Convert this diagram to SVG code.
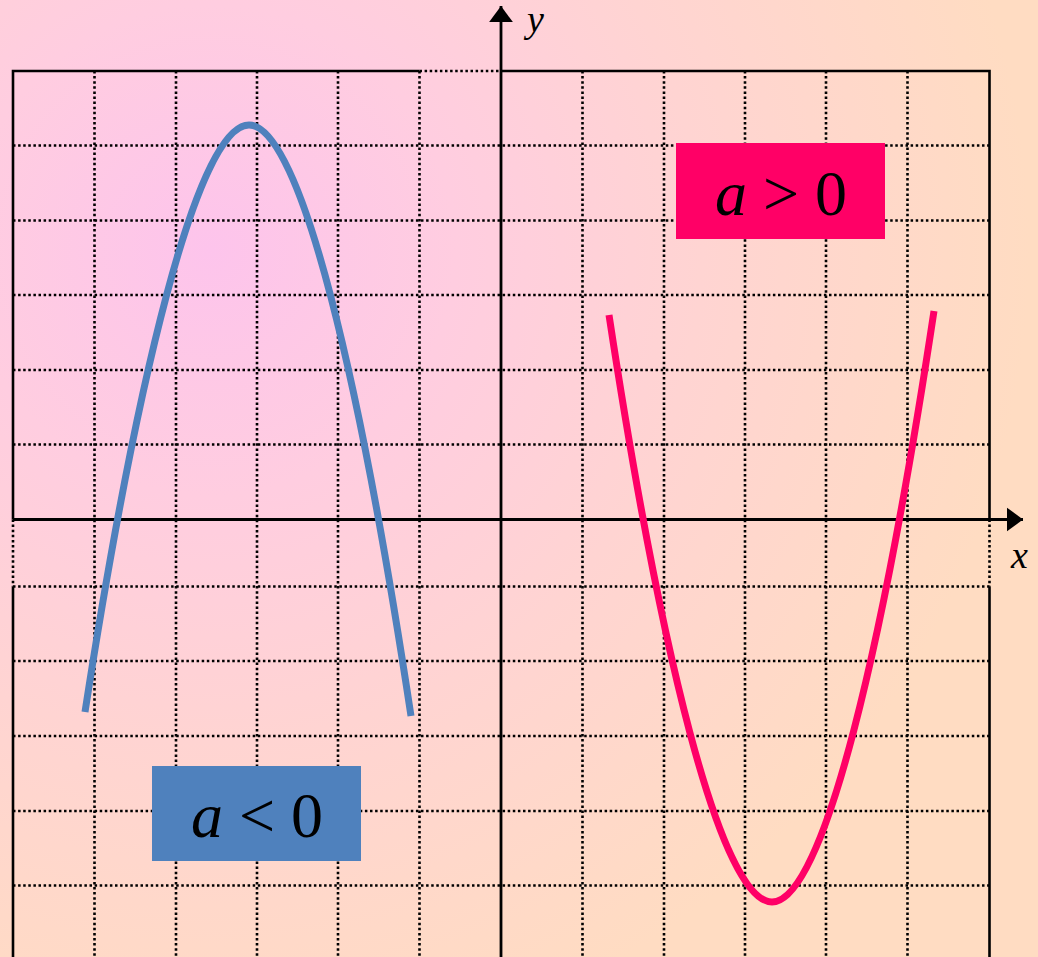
<svg xmlns="http://www.w3.org/2000/svg" width="1038" height="957" viewBox="0 0 1038 957">
  <defs>
    <radialGradient id="bg" cx="210" cy="250" r="820" gradientUnits="userSpaceOnUse">
      <stop offset="0" stop-color="#FDC4EC"/>
      <stop offset="0.3" stop-color="#FFCDE0"/>
      <stop offset="0.6" stop-color="#FFD4D2"/>
      <stop offset="1" stop-color="#FFDCC2"/>
    </radialGradient>
    <marker id="arrow" viewBox="0 0 10 10" refX="10" refY="5" markerWidth="5.8" markerHeight="8.6" markerUnits="strokeWidth" orient="auto" preserveAspectRatio="none">
      <path d="M0,0 L10,5 L0,10 Z" fill="#000"/>
    </marker>
    <style>
      .solid { stroke: #000; stroke-width: 2.6; fill: none; }
      .dot { stroke: #000; stroke-width: 2.6; stroke-dasharray: 2.5 2.6; fill: none; }
      .axis { stroke: #000; stroke-width: 2.8; fill: none; }
      .curve { fill: none; stroke-width: 7; stroke-linecap: butt; }
      .lbl { font-family: "Liberation Serif", "Times New Roman", serif; fill: #000; }
    </style>
  </defs>

  <rect x="0" y="0" width="1038" height="957" fill="url(#bg)"/>

  <g id="grid">
    <path class="dot" d="M94.5,71V957 M176,71V957 M257,71V957 M338,71V957 M419.5,71V957 M582.5,71V957 M664,71V957 M745,71V957 M826,71V957 M907.5,71V957"/>
    <path class="dot" d="M13,145.5H989.5 M13,220.5H989.5 M13,295H989.5 M13,370H989.5 M13,444.5H989.5 M13,586.5H989.5 M13,661H989.5 M13,736H989.5 M13,811H989.5 M13,885.5H989.5"/>
    <path class="dot" d="M419.5,71H501 M13,519.5V586.5 M989.5,519.5V586.5"/>
    <path class="solid" d="M13,519.5V71H419.5 M501,71H989.5V519.5 M13,586.5V957 M989.5,586.5V957"/>
  </g>

  <g id="connectors">
    <line id="x-axis" class="axis" x1="13" y1="519.5" x2="1023" y2="519.5" marker-end="url(#arrow)"/>
    <line id="y-axis" class="axis" x1="501" y1="957" x2="501" y2="6" marker-end="url(#arrow)"/>
  </g>

  <g id="axis-labels">
    <text class="lbl" x="527" y="32" font-size="38" font-style="italic">y</text>
    <text class="lbl" x="1011" y="568" font-size="38" font-style="italic">x</text>
  </g>

  <g id="curve-neg">
    <path class="curve" stroke="#4F81BD" d="M85,712 C136,382.5 197,125 249,125 C301,125 361,385 411,716"/>
  </g>

  <g id="curve-pos">
    <path class="curve" stroke="#FF0066" d="M609,315 C659,644.5 720,902 772,902 C824,902 884,642 934,311"/>
  </g>

  <g id="label-pos">
    <rect x="676" y="143" width="209" height="96" fill="#FF0066"/>
    <text class="lbl" x="715" y="215" font-size="64"><tspan font-style="italic">a</tspan> &gt; 0</text>
  </g>

  <g id="label-neg">
    <rect x="152" y="766" width="209" height="95" fill="#4F81BD"/>
    <text class="lbl" x="191" y="837" font-size="64"><tspan font-style="italic">a</tspan> &lt; 0</text>
  </g>
</svg>
